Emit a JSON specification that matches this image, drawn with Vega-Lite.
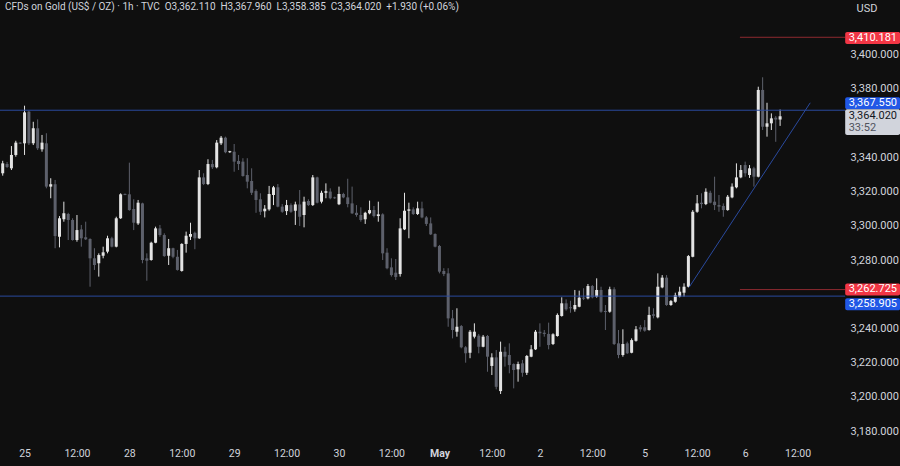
{
  "$schema": "https://vega.github.io/schema/vega-lite/v6.json",
  "width": 843,
  "height": 438,
  "autosize": {"type": "none"},
  "padding": {"left": 0, "top": 0, "right": 57, "bottom": 28},
  "background": "#0f0f0f",
  "config": {"view": {"stroke": null}, "font": "Roboto"},
  "title": {
    "text": "CFDs on Gold (US$ / OZ) · 1h · TVC\u00a0\u00a0O3,362.110\u00a0\u00a0H3,367.960\u00a0\u00a0L3,358.385\u00a0\u00a0C3,364.020\u00a0\u00a0+1.930 (+0.06%)",
    "anchor": "start",
    "frame": "group",
    "offset": -12,
    "dx": 5,
    "font": "Roboto",
    "fontSize": 10,
    "fontWeight": "normal",
    "color": "#d1d4dc"
  },
  "datasets": {
    "candles": [
      {"i":0,"o":3330.7,"h":3338.0,"l":3329.3,"c":3336.5},
      {"i":1,"o":3336.1,"h":3337.3,"l":3333.8,"c":3334.4},
      {"i":2,"o":3333.6,"h":3346.6,"l":3332.6,"c":3341.4},
      {"i":3,"o":3341.4,"h":3349.7,"l":3340.4,"c":3348.6},
      {"i":4,"o":3348.6,"h":3348.9,"l":3347.8,"c":3348.0},
      {"i":5,"o":3348.2,"h":3370.2,"l":3341.4,"c":3366.3},
      {"i":6,"o":3366.7,"h":3367.3,"l":3347.2,"c":3348.2},
      {"i":7,"o":3348.2,"h":3360.8,"l":3347.2,"c":3357.0},
      {"i":8,"o":3357.0,"h":3362.2,"l":3344.3,"c":3345.3},
      {"i":9,"o":3344.7,"h":3353.1,"l":3343.3,"c":3348.6},
      {"i":10,"o":3348.2,"h":3354.1,"l":3321.9,"c":3322.9},
      {"i":11,"o":3322.9,"h":3327.8,"l":3316.1,"c":3324.3},
      {"i":12,"o":3324.3,"h":3326.8,"l":3286.9,"c":3294.0},
      {"i":13,"o":3293.6,"h":3305.7,"l":3287.4,"c":3304.4},
      {"i":14,"o":3303.8,"h":3314.1,"l":3302.4,"c":3307.3},
      {"i":15,"o":3306.9,"h":3307.6,"l":3291.7,"c":3303.4},
      {"i":16,"o":3303.4,"h":3304.4,"l":3291.3,"c":3291.7},
      {"i":17,"o":3291.7,"h":3306.3,"l":3290.7,"c":3297.5},
      {"i":18,"o":3297.9,"h":3300.5,"l":3287.8,"c":3292.7},
      {"i":19,"o":3293.3,"h":3302.4,"l":3291.7,"c":3292.1},
      {"i":20,"o":3292.3,"h":3292.7,"l":3264.4,"c":3281.0},
      {"i":21,"o":3281.0,"h":3286.9,"l":3274.2,"c":3277.1},
      {"i":22,"o":3278.1,"h":3283.9,"l":3270.3,"c":3282.9},
      {"i":23,"o":3282.5,"h":3287.8,"l":3281.0,"c":3284.5},
      {"i":24,"o":3284.9,"h":3294.2,"l":3283.9,"c":3292.7},
      {"i":25,"o":3292.7,"h":3293.6,"l":3287.4,"c":3287.8},
      {"i":26,"o":3287.8,"h":3305.3,"l":3287.4,"c":3304.4},
      {"i":27,"o":3304.4,"h":3319.0,"l":3304.0,"c":3318.4},
      {"i":28,"o":3318.6,"h":3318.9,"l":3317.9,"c":3318.1},
      {"i":29,"o":3318.4,"h":3336.9,"l":3308.8,"c":3309.2},
      {"i":30,"o":3309.8,"h":3315.5,"l":3297.5,"c":3301.8},
      {"i":31,"o":3301.4,"h":3315.1,"l":3300.5,"c":3313.5},
      {"i":32,"o":3313.1,"h":3313.5,"l":3278.1,"c":3280.0},
      {"i":33,"o":3281.0,"h":3283.9,"l":3267.9,"c":3279.6},
      {"i":34,"o":3280.0,"h":3290.7,"l":3279.6,"c":3290.1},
      {"i":35,"o":3290.1,"h":3299.5,"l":3289.8,"c":3298.5},
      {"i":36,"o":3298.5,"h":3300.5,"l":3293.6,"c":3294.6},
      {"i":37,"o":3294.6,"h":3295.6,"l":3281.9,"c":3282.3},
      {"i":38,"o":3282.5,"h":3292.3,"l":3277.1,"c":3286.9},
      {"i":39,"o":3286.9,"h":3287.2,"l":3281.0,"c":3281.9},
      {"i":40,"o":3281.9,"h":3285.9,"l":3273.8,"c":3274.2},
      {"i":41,"o":3273.6,"h":3289.8,"l":3273.2,"c":3289.4},
      {"i":42,"o":3289.4,"h":3296.6,"l":3284.3,"c":3294.2},
      {"i":43,"o":3293.6,"h":3301.8,"l":3291.7,"c":3295.2},
      {"i":44,"o":3295.9,"h":3296.6,"l":3286.3,"c":3292.7},
      {"i":45,"o":3292.7,"h":3332.6,"l":3292.3,"c":3328.3},
      {"i":46,"o":3328.3,"h":3330.7,"l":3323.8,"c":3324.4},
      {"i":47,"o":3324.4,"h":3338.9,"l":3323.8,"c":3336.1},
      {"i":48,"o":3336.1,"h":3338.5,"l":3333.2,"c":3334.2},
      {"i":49,"o":3334.2,"h":3350.1,"l":3333.6,"c":3348.6},
      {"i":50,"o":3348.2,"h":3352.5,"l":3347.2,"c":3351.5},
      {"i":51,"o":3351.5,"h":3352.1,"l":3342.4,"c":3343.0},
      {"i":52,"o":3343.0,"h":3343.8,"l":3342.6,"c":3343.6},
      {"i":53,"o":3343.3,"h":3347.8,"l":3331.6,"c":3337.5},
      {"i":54,"o":3337.9,"h":3341.4,"l":3332.6,"c":3336.1},
      {"i":55,"o":3337.5,"h":3339.5,"l":3328.7,"c":3329.1},
      {"i":56,"o":3329.7,"h":3339.5,"l":3321.9,"c":3325.8},
      {"i":57,"o":3326.2,"h":3333.6,"l":3318.0,"c":3319.3},
      {"i":58,"o":3320.3,"h":3321.3,"l":3307.6,"c":3315.1},
      {"i":59,"o":3315.5,"h":3319.0,"l":3306.3,"c":3308.2},
      {"i":60,"o":3308.5,"h":3312.1,"l":3304.9,"c":3310.0},
      {"i":61,"o":3309.6,"h":3323.3,"l":3308.8,"c":3318.6},
      {"i":62,"o":3318.0,"h":3323.3,"l":3312.1,"c":3322.5},
      {"i":63,"o":3322.5,"h":3324.4,"l":3310.8,"c":3311.2},
      {"i":64,"o":3311.2,"h":3312.7,"l":3307.6,"c":3308.2},
      {"i":65,"o":3308.6,"h":3315.1,"l":3306.3,"c":3312.1},
      {"i":66,"o":3312.1,"h":3313.1,"l":3307.6,"c":3308.2},
      {"i":67,"o":3308.8,"h":3314.1,"l":3300.5,"c":3312.5},
      {"i":68,"o":3312.5,"h":3320.9,"l":3299.9,"c":3305.3},
      {"i":69,"o":3306.3,"h":3317.0,"l":3299.1,"c":3314.1},
      {"i":70,"o":3314.5,"h":3315.5,"l":3311.6,"c":3312.1},
      {"i":71,"o":3312.1,"h":3329.7,"l":3311.6,"c":3328.3},
      {"i":72,"o":3328.3,"h":3328.7,"l":3313.1,"c":3313.5},
      {"i":73,"o":3314.1,"h":3320.5,"l":3313.1,"c":3319.3},
      {"i":74,"o":3319.3,"h":3324.8,"l":3316.1,"c":3320.2},
      {"i":75,"o":3320.0,"h":3321.9,"l":3315.5,"c":3316.1},
      {"i":76,"o":3316.6,"h":3317.0,"l":3315.8,"c":3316.1},
      {"i":77,"o":3312.6,"h":3322.9,"l":3312.1,"c":3318.6},
      {"i":78,"o":3318.6,"h":3319.3,"l":3316.1,"c":3316.6},
      {"i":79,"o":3316.6,"h":3327.5,"l":3310.8,"c":3312.7},
      {"i":80,"o":3313.1,"h":3322.9,"l":3306.9,"c":3307.3},
      {"i":81,"o":3307.6,"h":3312.1,"l":3305.3,"c":3306.3},
      {"i":82,"o":3306.3,"h":3310.8,"l":3302.4,"c":3303.4},
      {"i":83,"o":3303.8,"h":3308.2,"l":3301.1,"c":3307.6},
      {"i":84,"o":3307.3,"h":3314.7,"l":3306.7,"c":3309.2},
      {"i":85,"o":3309.2,"h":3311.6,"l":3304.9,"c":3305.7},
      {"i":86,"o":3305.7,"h":3314.1,"l":3302.4,"c":3306.7},
      {"i":87,"o":3306.7,"h":3307.3,"l":3280.0,"c":3283.9},
      {"i":88,"o":3284.3,"h":3286.9,"l":3274.6,"c":3275.2},
      {"i":89,"o":3275.7,"h":3281.0,"l":3270.3,"c":3271.2},
      {"i":90,"o":3272.6,"h":3280.6,"l":3268.3,"c":3270.1},
      {"i":91,"o":3271.8,"h":3304.4,"l":3270.3,"c":3298.5},
      {"i":92,"o":3297.9,"h":3319.3,"l":3297.5,"c":3308.8},
      {"i":93,"o":3308.8,"h":3313.5,"l":3292.7,"c":3309.6},
      {"i":94,"o":3309.6,"h":3310.8,"l":3306.3,"c":3306.9},
      {"i":95,"o":3306.9,"h":3314.1,"l":3306.3,"c":3310.2},
      {"i":96,"o":3310.2,"h":3314.1,"l":3304.4,"c":3304.9},
      {"i":97,"o":3304.9,"h":3305.7,"l":3299.9,"c":3301.1},
      {"i":98,"o":3301.4,"h":3304.9,"l":3294.6,"c":3295.0},
      {"i":99,"o":3295.2,"h":3295.6,"l":3287.4,"c":3287.8},
      {"i":100,"o":3288.2,"h":3288.8,"l":3272.2,"c":3273.2},
      {"i":101,"o":3273.6,"h":3275.2,"l":3270.6,"c":3271.8},
      {"i":102,"o":3272.2,"h":3275.2,"l":3241.0,"c":3245.9},
      {"i":103,"o":3245.9,"h":3250.8,"l":3234.2,"c":3239.1},
      {"i":104,"o":3238.1,"h":3251.8,"l":3235.2,"c":3241.0},
      {"i":105,"o":3241.4,"h":3242.0,"l":3228.4,"c":3229.0},
      {"i":106,"o":3229.0,"h":3229.7,"l":3220.0,"c":3225.5},
      {"i":107,"o":3225.8,"h":3239.1,"l":3222.6,"c":3238.1},
      {"i":108,"o":3235.2,"h":3243.0,"l":3234.2,"c":3238.1},
      {"i":109,"o":3235.8,"h":3236.8,"l":3225.5,"c":3229.3},
      {"i":110,"o":3229.3,"h":3236.2,"l":3229.0,"c":3235.2},
      {"i":111,"o":3235.6,"h":3236.2,"l":3214.7,"c":3223.5},
      {"i":112,"o":3218.1,"h":3225.5,"l":3212.8,"c":3223.1},
      {"i":113,"o":3223.1,"h":3227.4,"l":3204.4,"c":3205.9},
      {"i":114,"o":3203.4,"h":3232.3,"l":3201.7,"c":3226.4},
      {"i":115,"o":3226.4,"h":3229.3,"l":3217.7,"c":3223.5},
      {"i":116,"o":3224.5,"h":3231.3,"l":3213.8,"c":3218.6},
      {"i":117,"o":3219.2,"h":3219.6,"l":3205.0,"c":3215.7},
      {"i":118,"o":3216.1,"h":3220.6,"l":3208.9,"c":3219.2},
      {"i":119,"o":3219.6,"h":3221.6,"l":3211.8,"c":3214.1},
      {"i":120,"o":3214.1,"h":3224.5,"l":3212.8,"c":3223.9},
      {"i":121,"o":3223.5,"h":3230.3,"l":3223.2,"c":3227.8},
      {"i":122,"o":3227.8,"h":3239.1,"l":3227.4,"c":3238.1},
      {"i":123,"o":3238.1,"h":3243.0,"l":3229.3,"c":3237.2},
      {"i":124,"o":3237.5,"h":3239.1,"l":3235.2,"c":3236.8},
      {"i":125,"o":3236.8,"h":3243.4,"l":3227.8,"c":3230.3},
      {"i":126,"o":3230.9,"h":3237.2,"l":3230.3,"c":3236.6},
      {"i":127,"o":3235.6,"h":3248.8,"l":3235.2,"c":3247.9},
      {"i":128,"o":3247.3,"h":3258.2,"l":3246.9,"c":3254.7},
      {"i":129,"o":3254.7,"h":3257.0,"l":3250.4,"c":3251.2},
      {"i":130,"o":3252.4,"h":3256.2,"l":3249.2,"c":3251.8},
      {"i":131,"o":3251.2,"h":3262.5,"l":3249.8,"c":3253.7},
      {"i":132,"o":3252.7,"h":3262.1,"l":3252.4,"c":3258.0},
      {"i":133,"o":3258.0,"h":3263.5,"l":3256.6,"c":3257.4},
      {"i":134,"o":3257.6,"h":3266.0,"l":3257.0,"c":3264.8},
      {"i":135,"o":3264.8,"h":3265.4,"l":3257.6,"c":3258.2},
      {"i":136,"o":3258.6,"h":3269.3,"l":3258.0,"c":3262.5},
      {"i":137,"o":3262.5,"h":3264.4,"l":3249.2,"c":3249.8},
      {"i":138,"o":3250.2,"h":3253.7,"l":3239.1,"c":3249.6},
      {"i":139,"o":3249.8,"h":3264.4,"l":3249.2,"c":3262.9},
      {"i":140,"o":3262.9,"h":3264.1,"l":3230.3,"c":3230.9},
      {"i":141,"o":3231.3,"h":3239.1,"l":3222.6,"c":3224.5},
      {"i":142,"o":3224.5,"h":3239.5,"l":3223.5,"c":3230.9},
      {"i":143,"o":3231.3,"h":3232.3,"l":3225.1,"c":3225.5},
      {"i":144,"o":3225.8,"h":3234.2,"l":3225.5,"c":3233.2},
      {"i":145,"o":3232.8,"h":3241.4,"l":3232.3,"c":3239.5},
      {"i":146,"o":3240.7,"h":3242.0,"l":3238.1,"c":3239.5},
      {"i":147,"o":3240.7,"h":3244.9,"l":3238.1,"c":3238.7},
      {"i":148,"o":3239.1,"h":3252.7,"l":3238.7,"c":3247.9},
      {"i":149,"o":3248.3,"h":3251.8,"l":3245.9,"c":3247.4},
      {"i":150,"o":3246.5,"h":3272.2,"l":3245.9,"c":3264.4},
      {"i":151,"o":3264.0,"h":3271.2,"l":3263.5,"c":3269.7},
      {"i":152,"o":3269.7,"h":3271.2,"l":3253.2,"c":3253.7},
      {"i":153,"o":3253.7,"h":3256.6,"l":3253.2,"c":3256.0},
      {"i":154,"o":3255.6,"h":3260.9,"l":3255.0,"c":3259.4},
      {"i":155,"o":3258.6,"h":3264.4,"l":3258.2,"c":3261.5},
      {"i":156,"o":3260.9,"h":3266.4,"l":3258.6,"c":3264.4},
      {"i":157,"o":3264.4,"h":3282.9,"l":3264.0,"c":3282.3},
      {"i":158,"o":3281.9,"h":3309.2,"l":3281.6,"c":3308.2},
      {"i":159,"o":3308.2,"h":3318.0,"l":3307.6,"c":3313.1},
      {"i":160,"o":3313.5,"h":3319.0,"l":3310.2,"c":3312.7},
      {"i":161,"o":3312.7,"h":3321.9,"l":3312.1,"c":3319.9},
      {"i":162,"o":3319.3,"h":3320.5,"l":3313.1,"c":3313.5},
      {"i":163,"o":3314.1,"h":3328.7,"l":3309.2,"c":3312.1},
      {"i":164,"o":3312.1,"h":3318.0,"l":3308.2,"c":3311.2},
      {"i":165,"o":3311.6,"h":3313.1,"l":3305.3,"c":3309.2},
      {"i":166,"o":3309.2,"h":3318.0,"l":3308.8,"c":3317.0},
      {"i":167,"o":3316.6,"h":3324.8,"l":3316.1,"c":3322.9},
      {"i":168,"o":3322.5,"h":3336.5,"l":3321.9,"c":3328.3},
      {"i":169,"o":3328.3,"h":3335.5,"l":3327.8,"c":3332.6},
      {"i":170,"o":3335.5,"h":3337.5,"l":3328.7,"c":3330.7},
      {"i":171,"o":3329.7,"h":3335.5,"l":3328.0,"c":3333.6},
      {"i":172,"o":3333.6,"h":3334.5,"l":3322.9,"c":3328.7},
      {"i":173,"o":3328.7,"h":3381.3,"l":3328.3,"c":3379.4},
      {"i":174,"o":3379.4,"h":3386.8,"l":3356.0,"c":3357.9},
      {"i":175,"o":3357.9,"h":3371.9,"l":3352.1,"c":3359.9},
      {"i":176,"o":3359.9,"h":3365.7,"l":3356.0,"c":3362.8},
      {"i":177,"o":3363.2,"h":3364.2,"l":3349.1,"c":3362.1},
      {"i":178,"o":3362.11,"h":3367.96,"l":3358.385,"c":3364.02}
    ],
    "levels": [
      {"kind": "blue", "x1": -0.62, "p": 3367.55},
      {"kind": "blue", "x1": -0.62, "p": 3258.905},
      {"kind": "red", "x1": 168.8, "p": 3410.181},
      {"kind": "red", "x1": 168.8, "p": 3262.725}
    ],
    "trend": [
      {"x1": 157.2, "p1": 3264.2, "x2": 184.9, "p2": 3371.9}
    ],
    "boxes": [
      {"kind": "red", "hi": 3413.3, "lo": 3406.3},
      {"kind": "blue", "hi": 3375.1, "lo": 3368.1},
      {"kind": "price", "hi": 3368.1, "lo": 3353.1},
      {"kind": "red", "hi": 3266.3, "lo": 3259.3},
      {"kind": "blue", "hi": 3257.6, "lo": 3250.6}
    ],
    "boxtext": [
      {"kind": "red", "label": "3,410.181", "p": 3409.8},
      {"kind": "blue", "label": "3,367.550", "p": 3371.6},
      {"kind": "price", "label": "3,364.020", "p": 3364.0},
      {"kind": "timer", "label": "33:52", "p": 3357.4},
      {"kind": "red", "label": "3,262.725", "p": 3262.8},
      {"kind": "blue", "label": "3,258.905", "p": 3254.1}
    ]
  },
  "layer": [
    {
      "data": {"name": "candles"},
      "mark": {"type": "rule", "strokeWidth": 1},
      "encoding": {
        "x": {
          "field": "i", "type": "quantitative", "title": null,
          "scale": {"domain": [-0.62, 192.4], "nice": false, "zero": false, "padding": 0},
          "axis": {
            "title": null,
            "values": [5, 17, 29, 41, 53, 65, 77, 89, 100, 112, 123, 135, 147, 159, 170, 182],
            "labelExpr": "['25','12:00','28','12:00','29','12:00','30','12:00','May','12:00','2','12:00','5','12:00','6','12:00'][indexof([5,17,29,41,53,65,77,89,100,112,123,135,147,159,170,182], datum.value)]",
            "labelColor": "#d1d4dc",
            "labelFont": "Roboto",
            "labelFontSize": 10.5,
            "labelFontWeight": {"condition": {"test": "datum.value == 100", "value": "bold"}, "value": "normal"},
            "labelPadding": 10,
            "labelOverlap": false,
            "labelFlush": false,
            "ticks": false,
            "domain": false,
            "grid": false
          }
        },
        "y": {
          "field": "l", "type": "quantitative", "title": "USD",
          "scale": {"domain": [3175.98, 3431.97], "nice": false, "zero": false, "padding": 0},
          "axis": {
            "orient": "right",
            "values": [3180, 3200, 3220, 3240, 3280, 3300, 3320, 3340, 3380, 3400],
            "format": ",.3f",
            "labelColor": "#d1d4dc",
            "labelFont": "Roboto",
            "labelFontSize": 11,
            "labelPadding": 7,
            "labelOverlap": false,
            "ticks": false,
            "domain": false,
            "grid": false,
            "title": "USD",
            "titleAngle": 0,
            "titleX": 13,
            "titleY": 8,
            "titleAlign": "left",
            "titleBaseline": "middle",
            "titleFont": "Roboto",
            "titleFontSize": 11,
            "titleFontWeight": "normal",
            "titleColor": "#d1d4dc"
          }
        },
        "y2": {"field": "h"},
        "color": {"condition": {"test": "datum.c >= datum.o", "value": "#e3e3e3"}, "value": "#5d606b"}
      }
    },
    {
      "data": {"name": "candles"},
      "mark": {"type": "bar", "width": 3},
      "encoding": {
        "x": {"field": "i", "type": "quantitative", "title": null},
        "y": {"field": "o", "type": "quantitative", "title": "USD"},
        "y2": {"field": "c"},
        "color": {"condition": {"test": "datum.c >= datum.o", "value": "#e3e3e3"}, "value": "#5d606b"}
      }
    },
    {
      "data": {"name": "levels"},
      "mark": {"type": "rule", "strokeWidth": 1},
      "encoding": {
        "x": {"field": "x1", "type": "quantitative", "title": null},
        "x2": {"datum": 192.9},
        "y": {"field": "p", "type": "quantitative", "title": "USD"},
        "stroke": {"field": "kind", "type": "nominal", "scale": {"domain": ["blue", "red"], "range": ["#2a4a9e", "#8e2a30"]}, "legend": null}
      }
    },
    {
      "data": {"name": "trend"},
      "mark": {"type": "rule", "strokeWidth": 1, "color": "#2a4a9e"},
      "encoding": {
        "x": {"field": "x1", "type": "quantitative", "title": null},
        "x2": {"field": "x2"},
        "y": {"field": "p1", "type": "quantitative", "title": "USD"},
        "y2": {"field": "p2"}
      }
    },
    {
      "data": {"name": "boxes"},
      "mark": {"type": "rect", "cornerRadius": 2},
      "encoding": {
        "x": {"datum": 192.9, "type": "quantitative", "title": null},
        "x2": {"datum": 205.5},
        "y": {"field": "hi", "type": "quantitative", "title": "USD"},
        "y2": {"field": "lo"},
        "fill": {"field": "kind", "type": "nominal", "scale": {"domain": ["blue", "red", "price"], "range": ["#2158e6", "#f23645", "#d1d4dc"]}, "legend": null}
      }
    },
    {
      "data": {"name": "boxtext"},
      "mark": {"type": "text", "align": "left", "baseline": "middle", "font": "Roboto", "fontSize": 11},
      "encoding": {
        "x": {"datum": 193.7, "type": "quantitative", "title": null},
        "y": {"field": "p", "type": "quantitative", "title": "USD"},
        "text": {"field": "label"},
        "color": {
          "condition": [
            {"test": "datum.kind == 'price'", "value": "#131722"},
            {"test": "datum.kind == 'timer'", "value": "#50535e"}
          ],
          "value": "#ffffff"
        }
      }
    }
  ]
}
